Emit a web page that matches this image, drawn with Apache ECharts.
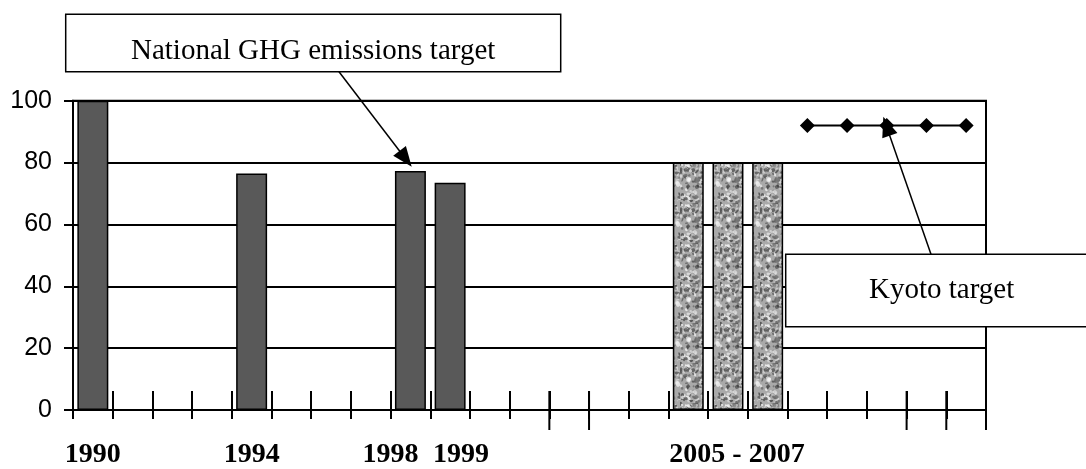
<!DOCTYPE html>
<html>
<head>
<meta charset="utf-8">
<script src="https://cdn.jsdelivr.net/npm/echarts@6/dist/echarts.min.js"></script>
<style>
html,body{margin:0;padding:0;background:#fff;}
#chart{width:1086px;height:469px;}
</style>
</head>
<body>
<div id="chart"></div>
<script>
// ---- data ----
const categories = ['1990','1991','1992','1993','1994','1995','1996','1997','1998','1999','2000','2001',
  '2002','2003','2004','2005','2006','2007','2008','2009','2010','2011','2012'];
const emissions = [100,null,null,null,76.5,null,null,null,77.3,73.5,null,null,null,null,null,null,null,null,null,null,null,null,null];
const nationalTarget = [null,null,null,null,null,null,null,null,null,null,null,null,null,null,null,80,80,80,null,null,null,null,null];
const kyotoTarget = [null,null,null,null,null,null,null,null,null,null,null,null,null,null,null,null,null,null,92,92,92,92,92];
const xTickLabels = ['1990','','','','1994','','','','1998','1999','','','','','','','2005 - 2007','','','','','',''];
const longTickBoundaries = [12,13,21,22,23];
const yMin = 0, yMax = 100, yStep = 20;
const nationalNote = 'National GHG emissions target';
const kyotoNote = 'Kyoto target';

// ---- granite-like texture for target bars ----
function makeTexture(){
  const c = document.createElement('canvas');
  c.width = 40; c.height = 40;
  const ctx = c.getContext('2d');
  ctx.fillStyle = '#a9a9a9';
  ctx.fillRect(0,0,40,40);
  let s = 987654;
  const rnd = () => { s = (s * 1103515245 + 12345) & 0x7fffffff; return s / 0x7fffffff; };
  ctx.filter = 'blur(0.5px)';
  for (let i = 0; i < 170; i++) {
    const x = rnd()*40, y = rnd()*40, rx = 0.8 + rnd()*2.2, ry = 0.6 + rnd()*1.6;
    const light = rnd() < 0.5;
    const g = light ? Math.floor(190 + rnd()*60) : Math.floor(60 + rnd()*70);
    ctx.fillStyle = 'rgba(' + g + ',' + g + ',' + g + ',0.8)';
    ctx.beginPath(); ctx.ellipse(x, y, rx, ry, rnd()*Math.PI, 0, Math.PI*2); ctx.fill();
  }
  return c;
}
const texture = makeTexture();

const serif = '"Liberation Serif","Times New Roman",serif';
const sans = '"Liberation Sans",Arial,sans-serif';

function arrowHead(x1,y1,x2,y2,L,W){
  const dx = x2-x1, dy = y2-y1, d = Math.hypot(dx,dy);
  const ux = dx/d, uy = dy/d;
  const bx = x2 - ux*L, by = y2 - uy*L;
  return [[x2,y2],[bx - uy*W, by + ux*W],[bx + uy*W, by - ux*W]];
}

const chart = echarts.init(document.getElementById('chart'), null, {renderer:'canvas'});

const natArrow = {x1:339, y1:71.7, x2:411.7, y2:166.7};
const kyArrow = {x1:931, y1:254.3, x2:883.3, y2:116.7};

const option = {
  animation: false,
  backgroundColor: '#fff',
  grid: {left: 73, right: 100, top: 100.7, bottom: 56, show: true, borderColor: '#000', borderWidth: 2, backgroundColor: 'transparent'},
  xAxis: [
    {
      type: 'category', data: categories, position: 'bottom',
      axisLine: {show: true, lineStyle: {color: '#000', width: 2}},
      axisTick: {show: true, inside: false, length: 9, interval: 0, lineStyle: {color: '#000', width: 2}},
      axisLabel: {
        interval: 0, margin: 31, color: '#000', fontFamily: serif, fontWeight: 'bold', fontSize: 28,
        formatter: function(v, i){
          const t = xTickLabels[i];
          if (!t) return '';
          if (i === 8) return '{l|' + t + '}';
          if (i === 9) return '{r|' + t + '}';
          if (i === 16) return '{t|' + t + '}';
          return '{a|' + t + '}';
        },
        rich: {
          a: {fontFamily: serif, fontWeight: 'bold', fontSize: 28, color: '#000'},
          l: {fontFamily: serif, fontWeight: 'bold', fontSize: 28, color: '#000', padding: [0, 40, 0, 0]},
          r: {fontFamily: serif, fontWeight: 'bold', fontSize: 28, color: '#000', padding: [0, 0, 0, 22]},
          t: {fontFamily: serif, fontWeight: 'bold', fontSize: 28, color: '#000', padding: [0, 0, 0, 18]}
        }
      },
      splitLine: {show: false}
    },
    {
      type: 'category', data: categories, position: 'bottom',
      axisLine: {show: false},
      axisTick: {show: true, inside: true, length: 19, interval: 0, lineStyle: {color: '#000', width: 2}},
      axisLabel: {show: false},
      splitLine: {show: false}
    }
  ],
  yAxis: [
    {
      type: 'value', min: yMin, max: yMax, interval: yStep,
      axisLine: {show: true, lineStyle: {color: '#000', width: 2}},
      axisTick: {show: true, inside: false, length: 9, lineStyle: {color: '#000', width: 2}},
      axisLabel: {margin: 21, color: '#000', fontFamily: sans, fontSize: 25},
      splitLine: {show: true, lineStyle: {color: '#000', width: 2}}
    },
    {
      type: 'value', min: yMin, max: yMax, interval: yStep, position: 'left',
      axisLine: {show: false},
      axisTick: {show: true, inside: true, length: 9, lineStyle: {color: '#000', width: 2}},
      axisLabel: {show: false},
      splitLine: {show: false}
    }
  ],
  series: [
    {
      type: 'bar', name: 'Emissions', data: emissions, xAxisIndex: 0, yAxisIndex: 0,
      barCategoryGap: '22%', barGap: '-100%',
      itemStyle: {color: '#595959', borderColor: '#000', borderWidth: 1.5}
    },
    {
      type: 'bar', name: 'National target', data: nationalTarget, xAxisIndex: 0, yAxisIndex: 0,
      barCategoryGap: '22%', barGap: '-100%',
      itemStyle: {color: {image: texture, repeat: 'repeat'}, borderColor: '#000', borderWidth: 1.5}
    },
    {
      type: 'line', name: 'Kyoto target', data: kyotoTarget, xAxisIndex: 0, yAxisIndex: 0,
      symbol: 'diamond', symbolSize: 15, showSymbol: true,
      lineStyle: {color: '#000', width: 2},
      itemStyle: {color: '#000'}, z: 5
    },
    {
      type: 'custom', name: 'long ticks', xAxisIndex: 0, yAxisIndex: 0, clip: false, silent: true, z: 6,
      data: longTickBoundaries.map(b => [b - 1, 0]),
      renderItem: function(params, api){
        const band = api.size([1, 0])[0];
        const p = api.coord([api.value(0), api.value(1)]);
        const x = p[0] + band / 2;
        return {type: 'line', shape: {x1: x, y1: p[1] - 19, x2: x, y2: p[1] + 20}, style: {stroke: '#000', lineWidth: 2}};
      }
    }
  ],
  graphic: [
    {type: 'rect', z: 100, shape: {x: 65.7, y: 14.3, width: 495, height: 57.4}, style: {fill: '#fff', stroke: '#000', lineWidth: 1.5}},
    {type: 'text', z: 101, style: {text: nationalNote, x: 131, y: 51.2, verticalAlign: 'middle', align: 'left', font: '29px ' + serif, fill: '#000'}},
    {type: 'line', z: 101, shape: {x1: natArrow.x1, y1: natArrow.y1, x2: natArrow.x2 - 10, y2: natArrow.y2 - 13}, style: {stroke: '#000', lineWidth: 1.5}},
    {type: 'polygon', z: 101, shape: {points: arrowHead(natArrow.x1, natArrow.y1, natArrow.x2, natArrow.y2, 20, 8)}, style: {fill: '#000'}},
    {type: 'rect', z: 100, shape: {x: 785.7, y: 254.3, width: 400, height: 72.4}, style: {fill: '#fff', stroke: '#000', lineWidth: 1.5}},
    {type: 'text', z: 101, style: {text: kyotoNote, x: 869, y: 290.2, verticalAlign: 'middle', align: 'left', font: '29px ' + serif, fill: '#000'}},
    {type: 'line', z: 101, shape: {x1: kyArrow.x1, y1: kyArrow.y1, x2: kyArrow.x2 + 4, y2: kyArrow.y2 + 12}, style: {stroke: '#000', lineWidth: 1.5}},
    {type: 'polygon', z: 101, shape: {points: arrowHead(kyArrow.x1, kyArrow.y1, kyArrow.x2, kyArrow.y2, 20, 8)}, style: {fill: '#000'}}
  ]
};
chart.setOption(option);
</script>
</body>
</html>
